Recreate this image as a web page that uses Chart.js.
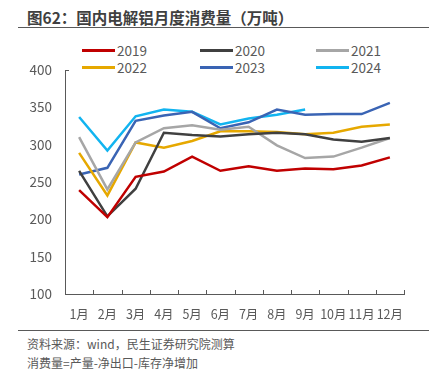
<!DOCTYPE html>
<html>
<head>
<meta charset="utf-8">
<script src="https://cdn.jsdelivr.net/npm/chart.js@4"></script>
<style>
  html, body { margin: 0; padding: 0; background: #fff; }
  body { width: 429px; height: 371px; position: relative; overflow: hidden;
         font-family: "Noto Sans CJK SC", sans-serif; color: #595959; }
  #title { position: absolute; left: 27px; top: 6px; font-size: 15.5px; font-weight: bold; color: #404040; white-space: nowrap; }
  .rule { position: absolute; left: 18px; right: 0; height: 0; border-top: 1.5px solid #595959; }
  #legend { position: absolute; left: 0; top: 0; }
  .item { position: absolute; font-size: 13.5px; line-height: 16px; white-space: nowrap; }
  .item i { position: absolute; top: 7px; width: 33px; height: 3px; }
  .item span { position: absolute; left: 35px; top: 0; }
  .note { position: absolute; left: 27px; font-size: 12px; white-space: nowrap; }
  canvas { position: absolute; left: 0; top: 0; }
</style>
</head>
<body>
<div id="title">图62：国内电解铝月度消费量（万吨）</div>
<div class="rule" style="top:27px"></div>
<div id="legend"></div>
<div class="rule" style="top:330px"></div>
<div class="note" style="top:335px">资料来源：wind，民生证券研究院测算</div>
<div class="note" style="top:354px">消费量=产量-净出口-库存净增加</div>
<canvas id="c" width="429" height="371"></canvas>
<script>
const months = ['1月', '2月', '3月', '4月', '5月', '6月', '7月', '8月', '9月', '10月', '11月', '12月'];
const years = ['2019', '2020', '2021', '2022', '2023', '2024'];
const colors = ['#C00000', '#404040', '#A6A6A6', '#E6A800', '#3A64B4', '#12B4F0'];

const v2019 = [239, 203, 257, 264, 284, 265, 271, 265, 268, 267, 272, 283];
const v2020 = [265, 204, 241, 316, 313, 311, 314, 316, 314, 307, 304, 309];
const v2021 = [310, 240, 303, 322, 326, 320, 324, 299, 282, 284, 296, 309];
const v2022 = [289, 232, 303, 296, 305, 318, 318, 317, 314, 316, 324, 327];
const v2023 = [260, 269, 332, 339, 344, 322, 330, 347, 340, 341, 341, 356];
const v2024 = [337, 292, 338, 347, 344, 327, 335, 340, 347];

const yTicks = [100, 150, 200, 250, 300, 350, 400];
const series = [v2019, v2020, v2021, v2022, v2023, v2024];

// legend, 3 columns x 2 rows
const legendCols = [82, 200, 316];
const legendRows = [42, 59];
const legend = document.getElementById('legend');
years.forEach((y, i) => {
  const el = document.createElement('div');
  el.className = 'item';
  el.style.left = legendCols[i % 3] + 'px';
  el.style.top = legendRows[Math.floor(i / 3)] + 'px';
  el.innerHTML = `<i style="background:${colors[i]}"></i><span>${y}</span>`;
  legend.appendChild(el);
});

// category boundary ticks pointing up into the plot
const innerTicks = {
  id: 'innerTicks',
  afterDraw(chart) {
    const x = chart.scales.x, y = chart.scales.y;
    const ctx = chart.ctx;
    const bottom = y.getPixelForValue(y.min);
    ctx.save();
    ctx.strokeStyle = '#595959';
    ctx.lineWidth = 1;
    ctx.beginPath();
    for (let i = 0; i <= months.length; i++) {
      const px = Math.round(x.getPixelForValue(i - 0.5)) + 0.5;
      ctx.moveTo(px, bottom);
      ctx.lineTo(px, bottom - 4);
    }
    const top = Math.round(y.getPixelForValue(y.max)) + 0.5;
    ctx.moveTo(x.left, top);
    ctx.lineTo(x.left + 4, top);
    ctx.stroke();
    ctx.restore();
  }
};

Chart.defaults.font.family = '"Noto Sans CJK SC", sans-serif';
Chart.defaults.color = '#595959';

new Chart(document.getElementById('c'), {
  type: 'line',
  data: {
    labels: months,
    datasets: years.map((y, i) => ({
      label: y,
      data: series[i],
      borderColor: colors[i],
      backgroundColor: colors[i],
      borderWidth: 2.5,
      pointRadius: 0,
      tension: 0
    }))
  },
  options: {
    responsive: false,
    animation: false,
    layout: { padding: { left: 18, right: 25, top: 70, bottom: 36 } },
    plugins: { legend: { display: false }, tooltip: { enabled: false } },
    scales: {
      x: {
        offset: true,
        grid: { display: false, drawTicks: false },
        border: { color: '#595959', width: 1 },
        ticks: { padding: 13, font: { size: 12.5 }, maxRotation: 0, autoSkip: false }
      },
      y: {
        min: 100,
        max: 400,
        afterBuildTicks: s => { s.ticks = yTicks.map(v => ({ value: v })); },
        afterFit: s => { s.width = 47; },
        grid: { display: false, drawTicks: false, tickLength: 0 },
        border: { color: '#595959', width: 1 },
        ticks: { padding: 13, font: { size: 13.5 } }
      }
    }
  },
  plugins: [innerTicks]
});
</script>
</body>
</html>
